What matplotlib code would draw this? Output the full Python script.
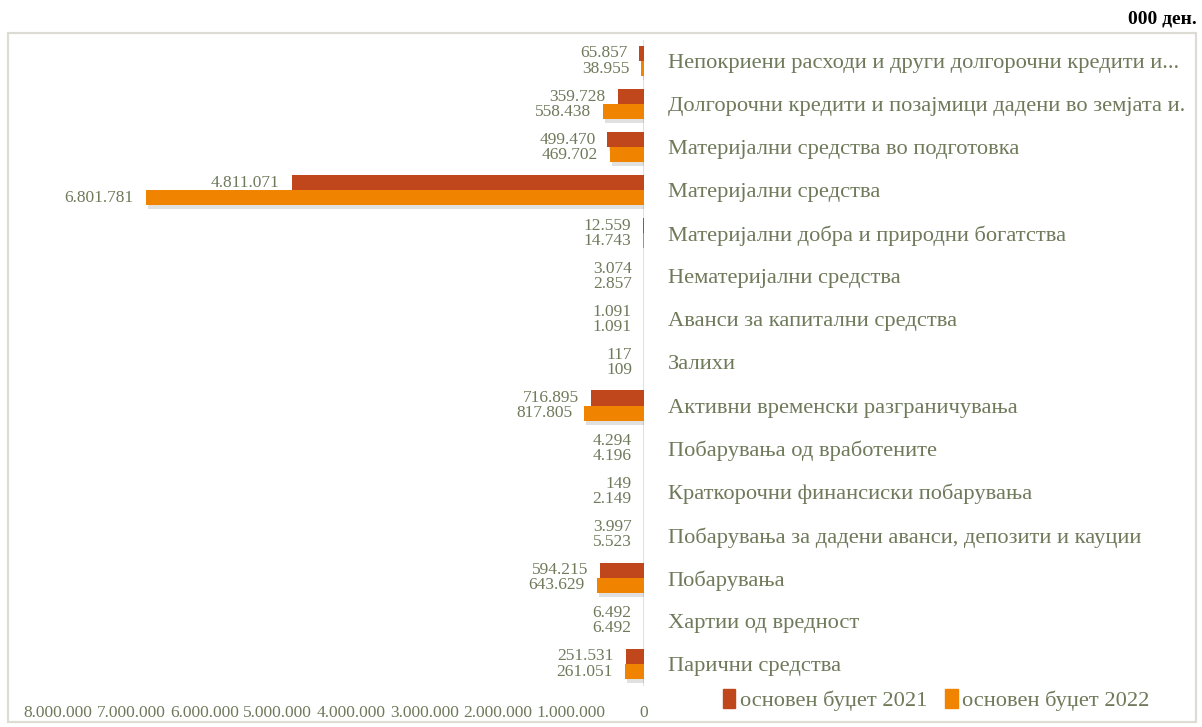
import matplotlib
matplotlib.use("Agg")
import matplotlib.pyplot as plt
import matplotlib.patheffects as pe
from matplotlib.patches import Rectangle
import numpy as np

categories = [
    "Непокриени расходи и други долгорочни кредити и...",
    "Долгорочни кредити и позајмици дадени во земјата и.",
    "Материјални средства во подготовка",
    "Материјални средства",
    "Материјални добра и природни богатства",
    "Нематеријални средства",
    "Аванси за капитални средства",
    "Залихи",
    "Активни временски разграничувања",
    "Побарувања од вработените",
    "Краткорочни финансиски побарувања",
    "Побарувања за дадени аванси, депозити и кауции",
    "Побарувања",
    "Хартии од вредност",
    "Парични средства",
]
budget_2021 = [65857, 359728, 499470, 4811071, 12559, 3074, 1091, 117, 716895,
               4294, 149, 3997, 594215, 6492, 251531]
budget_2022 = [38955, 558438, 469702, 6801781, 14743, 2857, 1091, 109, 817805,
               4196, 2149, 5523, 643629, 6492, 261051]
series_names = ["основен буџет 2021", "основен буџет 2022"]
xticks = [8000000, 7000000, 6000000, 5000000, 4000000, 3000000, 2000000, 1000000, 0]

TXT = "#6f7a5b"
C21 = "#c0461b"
C22 = "#f08400"
FONT = "Liberation Serif"

def fmt(v):
    return f"{v:,}".replace(",", ".")

W, H = 1202, 727
fig = plt.figure(figsize=(W / 100, H / 100), dpi=100)
fig.patch.set_facecolor("white")

# outer frame
fig.add_artist(Rectangle((8 / W, 1 - 722 / H), (1196 - 8) / W, (722 - 33) / H,
                         transform=fig.transFigure, fill=False,
                         edgecolor="#dcdcd4", linewidth=1.6))

left, right = 58 / W, 644 / W
top, bottom = 1 - 39.5 / H, 1 - 685.5 / H
ax = fig.add_axes([left, bottom, right - left, top - bottom])
ax.set_facecolor("none")

n = len(categories)
y = np.arange(n)
h = 0.35
shadow = [pe.SimplePatchShadow(offset=(1.5, -3), alpha=0.18, shadow_rgbFace="#555555"), pe.Normal()]
b1 = ax.barh(y - h / 2, budget_2021, height=h, color=C21, label=series_names[0])
b2 = ax.barh(y + h / 2, budget_2022, height=h, color=C22, label=series_names[1])
for b in list(b1) + list(b2):
    b.set_path_effects(shadow)

for i in range(n):
    ax.annotate(fmt(budget_2021[i]), (budget_2021[i], y[i] - h / 2),
                xytext=(-12, 0), textcoords="offset pixels", ha="right", va="center",
                fontsize=12.5, color=TXT, family=FONT)
    ax.annotate(fmt(budget_2022[i]), (budget_2022[i], y[i] + h / 2),
                xytext=(-12, 0), textcoords="offset pixels", ha="right", va="center",
                fontsize=12.5, color=TXT, family=FONT)

ax.set_xlim(8000000, 0)
ax.set_ylim(n - 0.5, -0.5)
ax.axvline(0, color="#d9d9d9", linewidth=1.2, zorder=0)

for s in ax.spines.values():
    s.set_visible(False)

ax.set_xticks(xticks)
ax.set_xticklabels([fmt(v) for v in xticks], fontsize=12.5, color=TXT, family=FONT)
ax.tick_params(axis="x", length=0, pad=14)

ax.yaxis.tick_right()
ax.set_yticks(y)
ax.set_yticklabels(categories, fontsize=16.2, color=TXT, family=FONT)
ax.tick_params(axis="y", length=0, pad=17)

h1 = Rectangle((0, 0), 1, 1, color=C21)
h2 = Rectangle((0, 0), 1, 1, color=C22)
leg = fig.legend(handles=[h1, h2], labels=series_names, loc="center left",
                 bbox_to_anchor=(714 / W, 1 - 700 / H), ncol=2, frameon=False,
                 prop={"family": FONT, "size": 16.2}, handlelength=0.55, handleheight=0.9,
                 handletextpad=0.2, columnspacing=0.8, borderaxespad=0)
for t in leg.get_texts():
    t.set_color(TXT)

fig.text(1197 / W, 1 - 19 / H, "000 ден.", ha="right", va="center",
         fontsize=14, fontweight="bold", family=FONT, color="black")

fig.savefig("out.png", dpi=100)
